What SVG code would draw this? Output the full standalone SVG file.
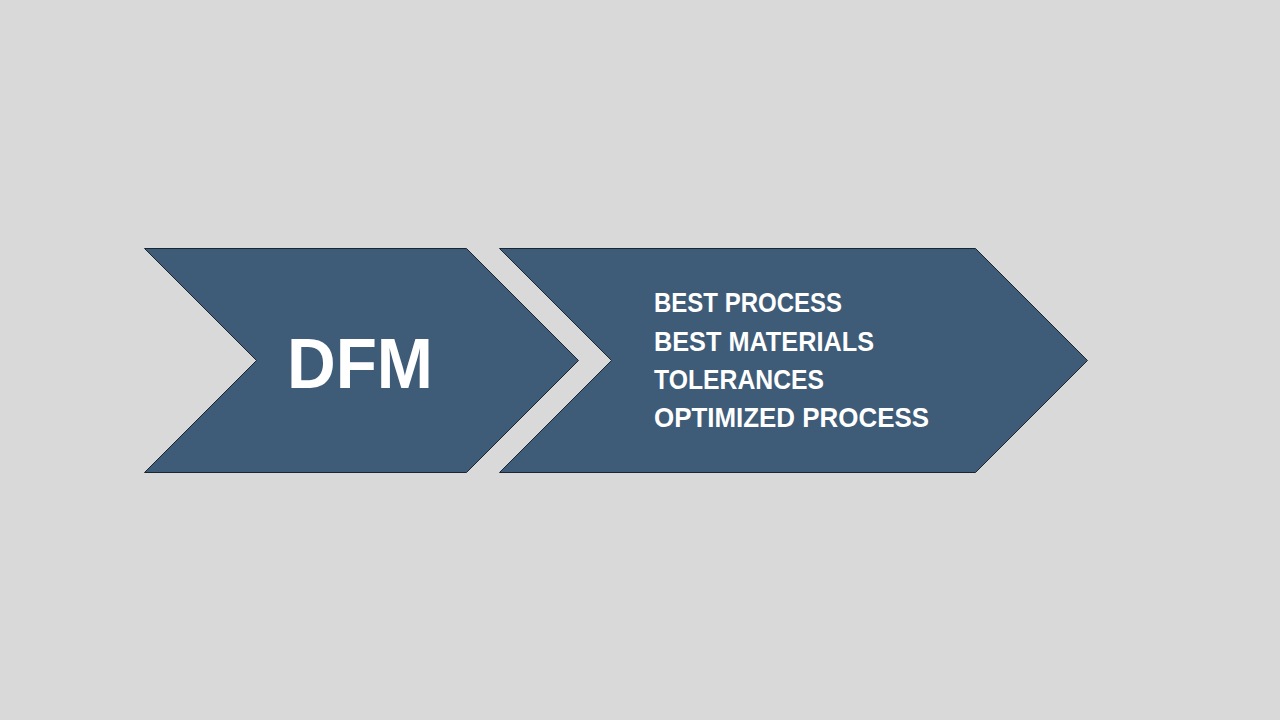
<svg xmlns="http://www.w3.org/2000/svg" width="1280" height="720" viewBox="0 0 1280 720">
  <style>
    .chev { fill: #3E5B77; stroke: #1b2633; stroke-width: 1; stroke-linejoin: miter; }
    .t { font-family: "Liberation Sans", Arial, sans-serif; font-weight: bold; fill: #FFFFFF; }
    .item { font-size: 28px; }
    .big { font-size: 71px; }
  </style>
  <rect x="0" y="0" width="1280" height="720" fill="#D9D9D9"/>
  <g id="node-dfm">
    <polygon class="chev" points="144.5,248.5 466.5,248.5 578.5,360.5 466.5,472.5 144.5,472.5 256.5,360.5"/>
    <text class="t big" x="287" y="388" textLength="146" lengthAdjust="spacingAndGlyphs">DFM</text>
  </g>
  <g id="node-goals">
    <polygon class="chev" points="499.5,248.5 975.5,248.5 1087.5,360.5 975.5,472.5 499.5,472.5 611.5,360.5"/>
    <text class="t item" x="654" y="312" textLength="188" lengthAdjust="spacingAndGlyphs">BEST PROCESS</text>
    <text class="t item" x="654" y="350.5" textLength="220" lengthAdjust="spacingAndGlyphs">BEST MATERIALS</text>
    <text class="t item" x="654" y="389" textLength="170" lengthAdjust="spacingAndGlyphs">TOLERANCES</text>
    <text class="t item" x="654" y="427" textLength="275" lengthAdjust="spacingAndGlyphs">OPTIMIZED PROCESS</text>
  </g>
  <g id="connectors"></g>
</svg>
